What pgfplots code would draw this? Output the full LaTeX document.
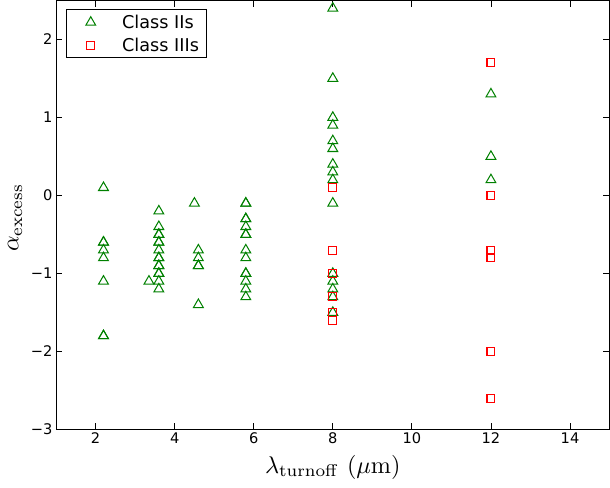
\documentclass[border=0pt]{standalone}
\usepackage[no-math]{fontspec}
\setmainfont{DejaVu Sans}
\usepackage{pgfplots}
\pgfplotsset{compat=1.18}
\definecolor{mplgreen}{rgb}{0,0.5,0}
\definecolor{mplred}{rgb}{1,0,0}
\begin{document}
\begin{tikzpicture}
\begin{axis}[
  scale only axis,
  width=547bp, height=424bp,
  xmin=1, xmax=15, ymin=-3, ymax=2.5,
  xtick={2,4,...,14},
  xticklabels={2,4,6,8,10,12,14},
  ytick={-3,-2,-1,0,1,2},
  yticklabels={−3,−2,−1,0,1,2},
  tick align=inside,
  major tick length=6bp,
  tick style={black, line width=0.8bp},
  axis line style={line width=0.9bp},
  ticklabel style={font=\fontsize{14.5}{16}\selectfont},
  xlabel={$\lambda_{\mathrm{turnoff}}\ (\mu\mathrm{m})$},
  ylabel={$\alpha_{\mathrm{excess}}$},
  xlabel style={font=\normalsize, scale=2.4, at={(axis description cs:0.5,-0.088)}, anchor=center},
  ylabel style={font=\normalsize, scale=2.4, at={(axis description cs:-0.074,0.493)}, anchor=center},
  legend style={font=\fontsize{17.5}{20}\selectfont, draw=black, line width=0.8bp, at={(axis description cs:0.018,0.979)}, anchor=north west, inner xsep=5bp, inner ysep=3bp, row sep=4bp},
  legend cell align=left,
  legend image code/.code={\draw[white, line width=0.1bp] (0,0) -- (48bp,0); \draw[#1, line width=1bp] plot coordinates {(19bp,0cm)};},
  clip=false,
]
\addplot[only marks, mark=triangle, mark size=5.6bp, draw=mplgreen, line width=1bp] coordinates {
(2.2,0.1) (2.2,-0.6) (2.2,-0.6) (2.2,-0.7) (2.2,-0.8) (2.2,-1.1) (2.2,-1.8) (2.2,-1.8)
(3.6,-0.2) (3.6,-0.4) (3.6,-0.5) (3.6,-0.5) (3.6,-0.6) (3.6,-0.6) (3.6,-0.7) (3.6,-0.8) (3.6,-0.8) (3.6,-0.9) (3.6,-0.9) (3.6,-1.0) (3.6,-1.0) (3.6,-1.1) (3.6,-1.2) (3.35,-1.1)
(4.5,-0.1) (4.6,-0.7) (4.6,-0.8) (4.6,-0.9) (4.6,-0.9) (4.6,-1.4)
(5.8,-0.1) (5.8,-0.1) (5.8,-0.3) (5.8,-0.3) (5.8,-0.4) (5.8,-0.5) (5.8,-0.5) (5.8,-0.7) (5.8,-0.8) (5.8,-1.0) (5.8,-1.0) (5.8,-1.1) (5.8,-1.2) (5.8,-1.3)
(8,2.4) (8,1.5) (8,1.0) (8,0.9) (8,0.7) (8,0.6) (8,0.4) (8,0.3) (8,0.2) (8,-0.1) (8,-1.0) (8,-1.1) (8,-1.2) (8,-1.3) (8,-1.5)
(12,1.3) (12,0.5) (12,0.2)
};
\addlegendentry{Class IIs}
\addplot[only marks, mark=square, mark size=3.9bp, draw=mplred, line width=1bp] coordinates {
(8,0.1) (8,-0.7) (8,-1.0) (8,-1.3) (8,-1.5) (8,-1.6)
(12,1.7) (12,0.0) (12,-0.7) (12,-0.8) (12,-2.0) (12,-2.6)
};
\addlegendentry{Class IIIs}
\end{axis}
\end{tikzpicture}
\end{document}
